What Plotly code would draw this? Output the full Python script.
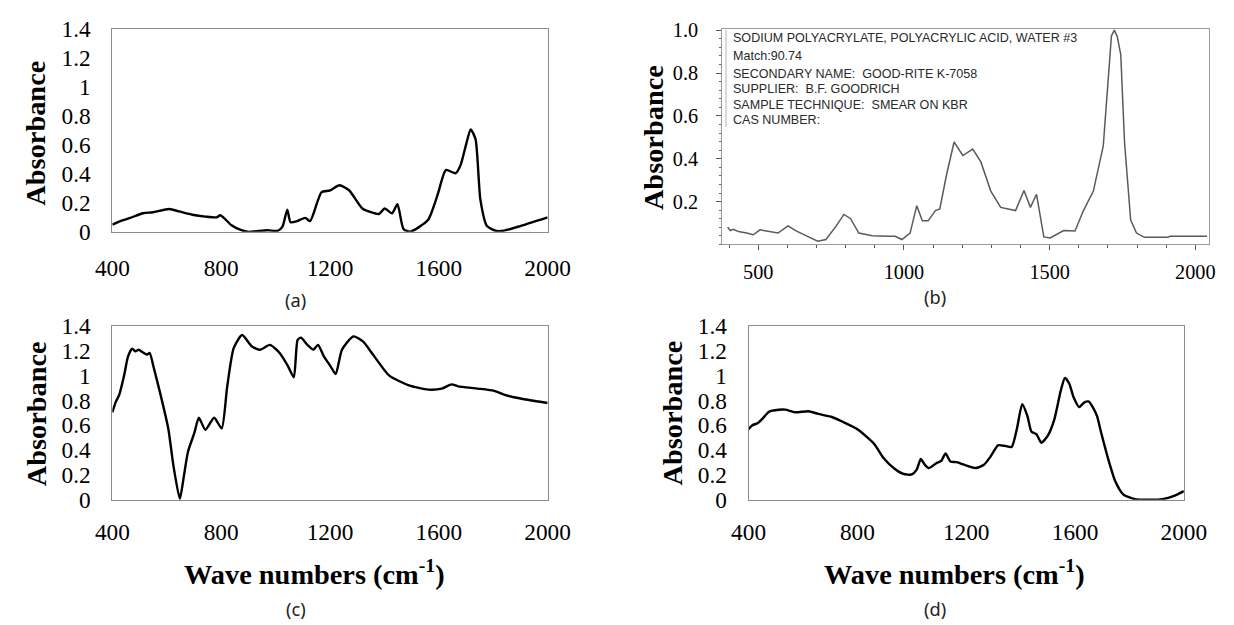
import plotly.graph_objects as go

W, H = 1234, 625

# ---------------- data ----------------
wn_a = [400, 429, 465, 513, 549, 609, 645, 694, 742, 784, 796, 808, 838, 874, 898, 970, 1006, 1025,
        1043, 1055, 1079, 1109, 1127, 1169, 1199, 1235, 1271, 1319, 1380, 1401, 1428, 1448, 1470,
        1494, 1560, 1596, 1626, 1662, 1680, 1700, 1717, 1735, 1753, 1777, 1813, 1840, 1891, 2000]
abs_a = [0.049, 0.074, 0.096, 0.128, 0.135, 0.157, 0.141, 0.118, 0.105, 0.100, 0.114, 0.100, 0.045,
         0.011, 0.0, 0.011, 0.006, 0.034, 0.153, 0.066, 0.074, 0.096, 0.074, 0.274, 0.285, 0.321,
         0.285, 0.161, 0.123, 0.161, 0.127, 0.190, 0.020, 0.0, 0.081, 0.258, 0.426, 0.404, 0.460,
         0.600, 0.707, 0.639, 0.220, 0.040, 0.006, 0.008, 0.035, 0.100]

wn_b = [395, 404, 415, 432, 460, 483, 506, 528, 568, 602, 630, 664, 704, 732, 766, 794, 817, 845, 891,
        947, 970, 993, 1021, 1044, 1063, 1083, 1108, 1123, 1146, 1172, 1202, 1236, 1264, 1298, 1332,
        1383, 1412, 1434, 1455, 1480, 1502, 1548, 1587, 1616, 1650, 1684, 1700, 1712, 1722, 1732,
        1744, 1757, 1778, 1798, 1825, 1906, 1912, 2040]
abs_b = [0.080, 0.065, 0.071, 0.060, 0.053, 0.045, 0.068, 0.063, 0.053, 0.087, 0.063, 0.041, 0.015,
         0.023, 0.083, 0.140, 0.120, 0.053, 0.041, 0.038, 0.038, 0.023, 0.053, 0.181, 0.110, 0.110,
         0.158, 0.166, 0.324, 0.478, 0.415, 0.445, 0.385, 0.249, 0.173, 0.158, 0.252, 0.173, 0.234,
         0.035, 0.030, 0.065, 0.063, 0.158, 0.249, 0.460, 0.730, 0.973, 1.000, 0.970, 0.886, 0.477,
         0.114, 0.053, 0.033, 0.033, 0.038, 0.038]

wn_c = [400, 413, 425, 443, 458, 473, 485, 497, 510, 528, 537, 552, 576, 606, 624, 648, 662, 678, 702,
        718, 742, 774, 802, 822, 846, 877, 913, 943, 979, 1015, 1045, 1067, 1081, 1093, 1117, 1139,
        1156, 1177, 1201, 1221, 1244, 1286, 1322, 1358, 1418, 1490, 1562, 1611, 1647, 1671, 1743,
        1803, 1846, 1891, 2000]
abs_c = [0.705, 0.791, 0.844, 1.000, 1.157, 1.217, 1.196, 1.209, 1.191, 1.170, 1.183, 1.066, 0.857,
         0.569, 0.282, 0.008, 0.178, 0.387, 0.543, 0.661, 0.564, 0.661, 0.575, 0.909, 1.222, 1.327,
         1.235, 1.209, 1.248, 1.183, 1.079, 0.987, 1.288, 1.306, 1.248, 1.209, 1.248, 1.157, 1.079,
         1.013, 1.209, 1.316, 1.274, 1.170, 1.000, 0.922, 0.888, 0.896, 0.930, 0.914, 0.896, 0.878,
         0.844, 0.820, 0.780]

wn_d = [400, 414, 433, 451, 475, 511, 535, 571, 620, 656, 704, 752, 800, 861, 897, 933, 969, 1000,
        1018, 1033, 1048, 1063, 1090, 1108, 1124, 1142, 1165, 1199, 1235, 1265, 1289, 1317, 1343,
        1367, 1386, 1406, 1425, 1440, 1458, 1476, 1500, 1524, 1548, 1563, 1579, 1594, 1615, 1633,
        1651, 1669, 1681, 1695, 1720, 1748, 1777, 1820, 1878, 1921, 1964, 2000]
abs_d = [0.569, 0.601, 0.616, 0.653, 0.710, 0.726, 0.726, 0.705, 0.713, 0.692, 0.669, 0.622, 0.569,
         0.452, 0.334, 0.256, 0.209, 0.204, 0.243, 0.329, 0.282, 0.256, 0.295, 0.313, 0.373, 0.308,
         0.303, 0.277, 0.256, 0.282, 0.347, 0.439, 0.434, 0.426, 0.569, 0.770, 0.674, 0.548, 0.530,
         0.460, 0.517, 0.648, 0.883, 0.982, 0.935, 0.830, 0.747, 0.783, 0.791, 0.731, 0.674, 0.550,
         0.344, 0.149, 0.044, 0.005, 0.0, 0.005, 0.031, 0.070]

x_ticks = [400, 800, 1200, 1600, 2000]
y_ticks = [0, 0.2, 0.4, 0.6, 0.8, 1.0, 1.2, 1.4]
y_ticktext = ["0", "0.2", "0.4", "0.6", "0.8", "1", "1.2", "1.4"]
b_x_ticks = [500, 1000, 1500, 2000]
b_y_ticks = [0.2, 0.4, 0.6, 0.8, 1.0]
b_y_ticktext = ["0.2", "0.4", "0.6", "0.8", "1.0"]

info_lines = ["SODIUM POLYACRYLATE, POLYACRYLIC ACID, WATER #3",
              "Match:90.74",
              "SECONDARY NAME:  GOOD-RITE K-7058",
              "SUPPLIER:  B.F. GOODRICH",
              "SAMPLE TECHNIQUE:  SMEAR ON KBR",
              "CAS NUMBER:"]
panel_labels = ["(a)", "(b)", "(c)", "(d)"]
y_title = "<b>Absorbance</b>"
x_title = "<b>Wave numbers (cm<sup>-1</sup>)</b>"

# ---------------- page geometry ----------------
# the page is shown with an 8px body margin and scaled by ~0.987; map target screen px -> figure px
K = 0.987
OFF = 8

def fx(p):
    return (p / K - OFF) / W

def fy(p):
    return 1 - (p / K - OFF) / H

def fs(s):
    return s / K

SERIF = "Liberation Serif"
SANS = "Liberation Sans"

fig = go.Figure()
line_black = dict(color="black", width=2.4, shape="spline", smoothing=0.6)
fig.add_trace(go.Scatter(x=wn_a, y=abs_a, mode="lines", line=line_black, xaxis="x", yaxis="y"))
fig.add_trace(go.Scatter(x=wn_b, y=abs_b, mode="lines",
                         line=dict(color="#5a5a5a", width=1.5), xaxis="x2", yaxis="y2"))
fig.add_trace(go.Scatter(x=wn_c, y=abs_c, mode="lines", line=line_black, xaxis="x3", yaxis="y3"))
fig.add_trace(go.Scatter(x=wn_d, y=abs_d, mode="lines", line=line_black, xaxis="x4", yaxis="y4"))

def excel_x(l, r, anchor, standoff):
    return dict(domain=[fx(l), fx(r)], range=[400, 2000], tickvals=x_ticks,
                showline=True, mirror=True, linecolor="#8c8c8c", linewidth=1, showgrid=False,
                zeroline=False, ticks="", anchor=anchor, ticklabelstandoff=standoff,
                tickfont=dict(family=SERIF, size=fs(23), color="black"))

def excel_y(t, b, anchor):
    return dict(domain=[fy(b), fy(t)], range=[0, 1.4], tickvals=y_ticks,
                ticktext=y_ticktext, showline=True, mirror=True, linecolor="#8c8c8c",
                linewidth=1, showgrid=False, zeroline=False, ticks="", anchor=anchor,
                ticklabelstandoff=16, tickfont=dict(family=SERIF, size=fs(23), color="black"))

layout = dict(
    width=W, height=H, margin=dict(l=0, r=0, t=0, b=0, pad=0),
    font=dict(family=SERIF, color="black"),
    paper_bgcolor="white", plot_bgcolor="white", showlegend=False,
    xaxis=excel_x(97, 541, "y", 15),
    yaxis=excel_y(16, 225, "x"),
    xaxis3=excel_x(97, 541, "y3", 11),
    yaxis3=excel_y(322, 501, "x3"),
    xaxis4=excel_x(746, 1190, "y4", 11),
    yaxis4=excel_y(322, 501, "x4"),
    xaxis2=dict(domain=[fx(719), fx(1216)], range=[376, 2048], tickvals=b_x_ticks,
                showline=True, mirror=True, linecolor="#9a9a9a", linewidth=1, showgrid=False,
                zeroline=False, ticks="outside", ticklen=5, tickcolor="#555", anchor="y2",
                minor=dict(dtick=100, tick0=0, ticks="outside", ticklen=3, tickcolor="#555"),
                ticklabelstandoff=4, tickfont=dict(family=SERIF, size=fs(20), color="black")),
    yaxis2=dict(domain=[fy(238), fy(16)], range=[0, 1.006], tickvals=b_y_ticks,
                ticktext=b_y_ticktext, showline=True, mirror=True, linecolor="#9a9a9a",
                linewidth=1, showgrid=False, zeroline=False, ticks="outside", ticklen=5,
                tickcolor="#555", anchor="x2",
                minor=dict(dtick=0.04, tick0=0, ticks="outside", ticklen=2, tickcolor="#666"),
                ticklabelstandoff=14, tickfont=dict(family=SERIF, size=fs(20), color="black")),
)
fig.update_layout(**layout)

ann = []
for (x, y) in [(19, 123), (649, 128), (20, 412), (668, 412)]:
    ann.append(dict(x=fx(x), y=fy(y), xref="paper", yref="paper", text=y_title,
                    textangle=-90, showarrow=False, xanchor="center", yanchor="middle",
                    font=dict(family=SERIF, size=fs(28), color="black")))
for (x, y) in [(303, 575), (956, 575)]:
    ann.append(dict(x=fx(x), y=fy(y), xref="paper", yref="paper", text=x_title,
                    showarrow=False, xanchor="center", yanchor="middle",
                    font=dict(family=SERIF, size=fs(28), color="black")))
for lab, (x, y) in zip(panel_labels, [(284, 295), (936, 292), (284, 613), (936, 613)]):
    ann.append(dict(x=fx(x), y=fy(y), xref="paper", yref="paper", text=lab,
                    showarrow=False, xanchor="center", yanchor="middle",
                    font=dict(family="Noto Sans", size=fs(18), color="#222")))
for txt, y in zip(info_lines, [25, 44, 62, 78, 94, 110]):
    ann.append(dict(x=fx(728), y=fy(y), xref="paper", yref="paper", text=txt,
                    showarrow=False, xanchor="left", yanchor="middle",
                    font=dict(family=SANS, size=fs(12.4), color="#2a2a2a")))
fig.update_layout(annotations=ann)

fig.add_shape(type="line", xref="paper", yref="paper", x0=fx(723), x1=fx(723),
              y0=fy(117), y1=fy(17), line=dict(color="#b5b5b5", width=1))

fig.write_html("out.html")
